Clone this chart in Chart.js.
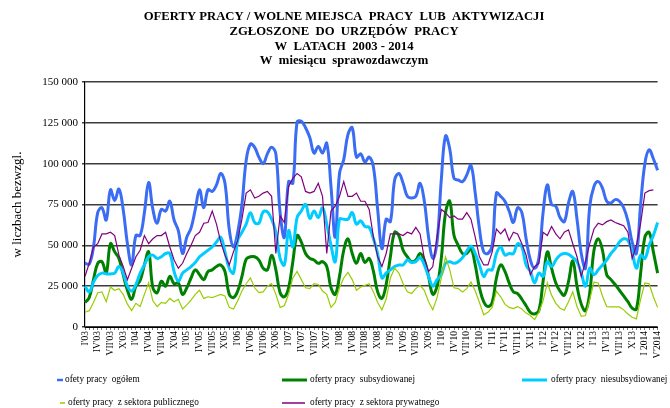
<!DOCTYPE html>
<html lang="pl">
<head>
<meta charset="utf-8">
<title>Oferty pracy 2003-2014</title>
<script src="https://cdn.jsdelivr.net/npm/chart.js@4.4.1/dist/chart.umd.min.js"></script>
<style>
  html, body { margin: 0; padding: 0; background: #fff; }
  #wrap { width: 670px; height: 408px; }
</style>
</head>
<body>
<div id="wrap"><canvas id="chart" width="670" height="408"></canvas></div>
<script>
// ===============================
// DATA (miesięcznie I 2003 - IV 2014)
// ===============================
const titleLines = [
    'OFERTY PRACY / WOLNE MIEJSCA  PRACY  LUB  AKTYWIZACJI',
    'ZGŁOSZONE  DO  URZĘDÓW  PRACY',
    'W  LATACH  2003 - 2014',
    'W  miesiącu  sprawozdawczym'
];
const yAxisTitle = 'w liczbach bezwzgl.';

const tickLabels = [
    "I'03", "IV'03", "VII'03", "X'03",
    "I'04", "IV'04", "VII'04", "X'04",
    "I'05", "IV'05", "VII'05", "X'05",
    "I'06", "IV'06", "VII'06", "X'06",
    "I'07", "IV'07", "VII'07", "X'07",
    "I'08", "IV'08", "VII'08", "X'08",
    "I'09", "IV'09", "VII'09", "X'09",
    "I'10", "IV'10", "VII'10", "X'10",
    "I'11", "IV'11", "VII'11", "X'11",
    "I'12", "IV'12", "VII'12", "X'12",
    "I'13", "IV'13", "VII'13", "X'13",
    "I 2014", "IV'2014"
];

const seriesNames = [
    'ofety pracy  ogółem',
    'oferty pracy  subsydiowanej',
    'oferty pracy  niesubsydiowanej',
    'oferty pracy  z sektora publicznego',
    'oferty pracy  z sektora prywatnego'
];

const ogolem = [
    39000, 38500, 49000, 70000, 73000, 65500, 84000, 77500, 84500, 72000, 51000, 38000,
    56000, 56000, 70000, 88500, 72000, 63500, 72000, 71000, 77000, 65500, 59000, 45000,
    55000, 60500, 72000, 84000, 73000, 84000, 83000, 87000, 94000, 88000, 60000, 49000,
    58000, 75000, 102000, 112000, 110000, 104000, 100000, 106000, 110000, 106000, 70000, 55000,
    89000, 88000, 125500, 126000, 122000, 116000, 106500, 110500, 106500, 112500, 86000, 55000,
    94000, 102500, 118000, 122000, 104000, 106000, 101000, 104000, 98000, 72000, 48000, 66000,
    64500, 90000, 94000, 88000, 80000, 79000, 80000, 88000, 77000, 55000, 42000, 52000,
    90000, 117000, 109000, 91000, 90000, 89000, 93000, 99000, 82000, 60000, 46000, 45000,
    50000, 82000, 80000, 77000, 71000, 64000, 73000, 70000, 54000, 41000, 36000, 42000,
    70000, 87000, 75000, 74000, 67000, 64500, 76000, 83000, 66000, 45000, 36000, 74000,
    86000, 89000, 85000, 77000, 76000, 78000, 77000, 73000, 65000, 52000, 45000, 75000,
    100000, 108500, 103000, 96000
];

const subsydiowane = [
    15000, 18000, 29000, 39000, 40000, 33000, 51000, 46000, 42000, 32000, 22500, 17000,
    25000, 28500, 38000, 46000, 24000, 21000, 28000, 25000, 31000, 26500, 27000, 20000,
    24000, 30000, 35000, 32000, 29000, 34000, 35000, 37000, 38000, 34000, 20000, 18000,
    22000, 31000, 41500, 43000, 43000, 41000, 36000, 35000, 44000, 35000, 21000, 18500,
    24000, 40000, 56000, 52000, 45000, 42000, 41000, 39000, 40000, 37000, 24000, 20000,
    31000, 47000, 54000, 45000, 39000, 45000, 39500, 42000, 34000, 21500, 17500, 26000,
    43000, 58000, 56000, 47000, 43000, 40000, 41000, 45000, 41000, 31000, 20000, 25000,
    42000, 70000, 77000, 56000, 50000, 45000, 45000, 48000, 38000, 24000, 15500, 12500,
    15000, 30000, 38000, 34000, 27000, 21500, 20500, 17000, 13000, 9000, 8000, 10000,
    28000, 46000, 36000, 27000, 22000, 19500, 28000, 40500, 25000, 14000, 10000, 21000,
    47000, 54000, 47000, 32000, 29000, 26000, 22500, 19000, 15500, 11500, 11000, 33000,
    55000, 58000, 46000, 33000
];

const niesubsydiowane = [
    25000, 21500, 27500, 31500, 33000, 32500, 32500, 33000, 37000, 33000, 25000, 22000,
    26000, 33000, 38000, 43000, 44000, 42000, 43000, 45000, 45000, 34000, 28000, 33000,
    35000, 37000, 39500, 43000, 45000, 47000, 49000, 52000, 55000, 46000, 36000, 33000,
    53000, 58000, 63000, 70000, 64000, 63500, 70500, 70500, 66000, 58000, 42000, 38000,
    59000, 49000, 67000, 71000, 75000, 66500, 71000, 67000, 73000, 63000, 50000, 40000,
    66000, 66000, 66000, 70000, 63000, 65000, 61500, 61000, 54000, 45000, 30000, 33000,
    35000, 37000, 38000, 38000, 41000, 39500, 40000, 42500, 38000, 31000, 25000, 29000,
    32000, 39000, 40000, 39000, 40000, 42500, 46500, 49500, 45000, 38000, 31000, 35000,
    35000, 45000, 49000, 44000, 45000, 45000, 51000, 49000, 38000, 34000, 27000, 33000,
    31000, 40000, 37000, 41000, 44000, 45000, 44500, 42500, 40000, 33000, 25000, 36000,
    32000, 35000, 38000, 41000, 45000, 48000, 52000, 54000, 53000, 46000, 36000, 44000,
    42000, 50000, 56000, 64000
];

const publiczny = [
    9000, 10000, 15000, 21000, 21500, 15500, 24500, 22500, 23500, 20000, 14000, 10000,
    14500, 12500, 20000, 27000, 16000, 12500, 15000, 14500, 17500, 15500, 17000, 11000,
    13500, 16500, 20000, 22500, 17500, 18500, 18000, 19000, 20000, 19000, 12000, 11000,
    16000, 22000, 26500, 30000, 24000, 21000, 21500, 25000, 26500, 20000, 12000, 13000,
    20000, 30000, 34000, 29000, 24000, 23500, 26500, 26000, 22000, 20000, 12000, 15000,
    24000, 30000, 33500, 29000, 22500, 24500, 25500, 26500, 21500, 15000, 10500, 17000,
    30000, 36000, 33000, 26500, 21500, 20500, 23500, 25500, 22500, 15500, 10500, 18000,
    30000, 43000, 35000, 24000, 23500, 21500, 23500, 27500, 22000, 15000, 7500, 9000,
    12000, 22000, 18500, 14000, 12000, 11300, 12500, 11000, 8500, 7000, 4500, 9000,
    16000, 27000, 19500, 14500, 11500, 10300, 15500, 21500, 12500, 6500, 7000, 17000,
    27500, 27000, 19000, 12500, 12300, 12300, 12300, 10500, 8000, 6000, 5000, 17000,
    27000, 26500, 18500, 12000
];

const prywatny = [
    31000, 39000, 49000, 51000, 57000, 57000, 58000, 56000, 44000, 37000, 29000, 36000,
    43000, 47000, 56000, 51000, 54000, 56000, 56000, 58000, 49000, 41000, 36000, 39000,
    45000, 50000, 56000, 58000, 63500, 64000, 71000, 63000, 52000, 44000, 38000, 46000,
    53000, 66000, 82000, 84000, 79000, 80000, 82000, 83000, 80000, 45000, 68000, 64000,
    86000, 91000, 94000, 92000, 83000, 82000, 83000, 88000, 80000, 45000, 71000, 74000,
    80000, 89000, 80000, 80000, 82000, 77000, 77000, 72000, 55000, 43000, 37000, 45000,
    57000, 57000, 57000, 56000, 58000, 57000, 61000, 57000, 42000, 34000, 37000, 55000,
    72000, 70000, 67000, 68000, 66000, 66000, 70000, 66000, 55000, 43000, 38000, 38000,
    46000, 60000, 57000, 60000, 53000, 58000, 57000, 51000, 44000, 32000, 37000, 39000,
    58000, 56000, 61500, 57000, 54000, 58000, 59500, 51000, 43000, 31000, 40000, 51000,
    60000, 63500, 62500, 64500, 65500, 64000, 63000, 62000, 58000, 42000, 50000, 63500,
    82000, 83500, 84000, null
];

// kategorie: kolejne miesiące
const romans = ['I', 'II', 'III', 'IV', 'V', 'VI', 'VII', 'VIII', 'IX', 'X', 'XI', 'XII'];
const categories = [];
for (let y = 2003; y <= 2014; y++) {
    for (let m = 0; m < 12; m++) {
        if (y === 2014 && m > 3) break;
        categories.push(romans[m] + "'" + String(y).slice(2));
    }
}

const colors = ['#3a6cf4', '#008000', '#00ccff', '#99cc00', '#800080'];

// ===============================
// TYTUŁ + LEGENDA (rysowane na canvasie)
// ===============================
const extraText = {
    id: 'extraText',
    afterDraw(chart) {
        const ctx = chart.ctx;
        ctx.save();
        ctx.fillStyle = '#000';
        ctx.textBaseline = 'middle';

        // tytuł
        ctx.textAlign = 'center';
        ctx.font = 'bold 12.7px "Liberation Serif"';
        titleLines.forEach((t, i) => ctx.fillText(t, 344, 17 + i * 14.7));

        // legenda
        const items = [
            { x1: 57, x2: 63, tx: 65, y: 380, w: 2.5 },
            { x1: 282, x2: 307, tx: 310, y: 380, w: 3 },
            { x1: 522, x2: 547, tx: 551, y: 380, w: 3 },
            { x1: 60, x2: 65, tx: 68, y: 403, w: 1.5 },
            { x1: 282, x2: 305, tx: 310, y: 403, w: 1.5 }
        ];
        ctx.textAlign = 'left';
        ctx.font = '9.3px "Liberation Serif"';
        items.forEach((it, i) => {
            ctx.strokeStyle = colors[i];
            ctx.lineWidth = it.w;
            ctx.beginPath();
            ctx.moveTo(it.x1, it.y);
            ctx.lineTo(it.x2, it.y);
            ctx.stroke();
            ctx.fillText(seriesNames[i], it.tx, it.y);
        });
        ctx.restore();
    }
};

// ===============================
// INIT CHART
// ===============================
function makeSet(i, data, thick) {
    return {
        label: seriesNames[i],
        data: data,
        borderColor: colors[i],
        backgroundColor: colors[i],
        borderWidth: thick ? 3 : 1.2,
        tension: thick ? 0.4 : 0,
        pointRadius: 0,
        fill: false,
        order: 4 - i
    };
}

const ctx = document.getElementById('chart').getContext('2d');

new Chart(ctx, {
    type: 'line',
    data: {
        labels: categories,
        datasets: [
            makeSet(0, ogolem, true),
            makeSet(1, subsydiowane, true),
            makeSet(2, niesubsydiowane, true),
            makeSet(3, publiczny, false),
            makeSet(4, prywatny, false)
        ]
    },
    plugins: [extraText],
    options: {
        responsive: false,
        animation: false,
        events: [],
        layout: {
            padding: { top: 82, right: 2, bottom: 50, left: 0 }
        },
        plugins: {
            legend: { display: false },
            title: { display: false },
            tooltip: { enabled: false }
        },
        scales: {
            x: {
                offset: false,
                afterFit: s => { s.height = 31; },
                grid: {
                    display: true,
                    drawOnChartArea: false,
                    drawTicks: true,
                    tickLength: 3,
                    color: '#777',
                    lineWidth: 1
                },
                border: { display: true, color: '#000', width: 1 },
                ticks: {
                    autoSkip: false,
                    minRotation: 90,
                    maxRotation: 90,
                    padding: 1,
                    color: '#000',
                    font: { family: '"Liberation Serif"', size: 9.5 },
                    callback: (v, i) => (i % 3 === 0 ? tickLabels[i / 3] : '')
                }
            },
            y: {
                min: 0,
                max: 150000,
                afterFit: s => { s.width = 85; },
                grid: {
                    color: '#3c3c3c',
                    lineWidth: 1.5,
                    drawTicks: true,
                    tickLength: 3
                },
                border: { display: true, color: '#000', width: 1.2 },
                ticks: {
                    stepSize: 25000,
                    padding: 4,
                    color: '#000',
                    font: { family: '"Liberation Serif"', size: 11 },
                    callback: v => (v === 0 ? '0' : (v / 1000) + ' 000')
                },
                title: {
                    display: true,
                    text: yAxisTitle,
                    color: '#000',
                    font: { family: '"Liberation Serif"', size: 13 },
                    padding: { top: 10, bottom: 4 }
                }
            }
        }
    }
});
</script>
</body>
</html>
